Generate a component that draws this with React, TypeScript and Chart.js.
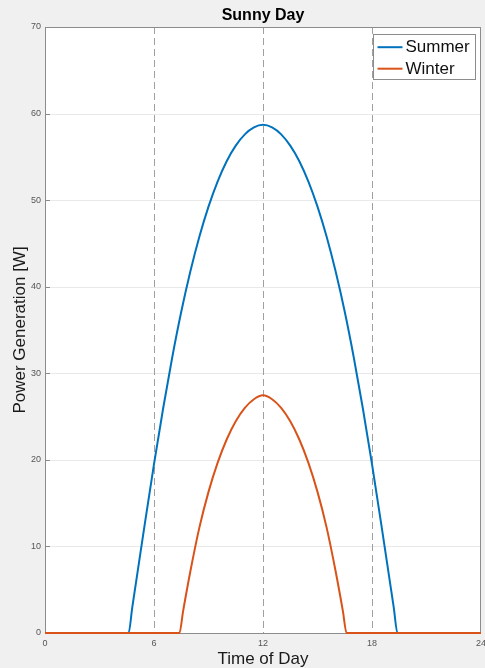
import React, { useEffect, useRef } from "react";
import { Chart, registerables } from "chart.js";

Chart.register(...registerables);

const chartTitle = "Sunny Day";
const xAxisTitle = "Time of Day";
const yAxisTitle = "Power Generation [W]";
const seriesNames = ["Summer", "Winter"];
const seriesColors = ["#0072BD", "#D95319"];

const summerHours = [0, 4.6, 4.8, 5, 5.5, 6, 6.5, 7, 7.5, 8, 8.5, 9, 9.5, 10, 10.5, 11, 11.5, 12, 12.5, 13, 13.5, 14, 14.5, 15, 15.5, 16, 16.5, 17, 17.5, 18, 18.5, 19, 19.2, 19.4, 24];
const summerPower = [0, 0, 2.9, 5.7, 12.7, 19.5, 25.9, 31.8, 37.1, 41.75, 45.8, 49.25, 52.15, 54.5, 56.3, 57.6, 58.4, 58.7, 58.4, 57.6, 56.3, 54.5, 52.15, 49.25, 45.8, 41.75, 37.1, 31.8, 25.9, 19.5, 12.7, 5.7, 2.9, 0, 0];

const winterHours = [0, 7.4, 7.6, 8, 8.5, 9, 9.5, 10, 10.5, 11, 11.5, 12, 12.5, 13, 13.5, 14, 14.5, 15, 15.5, 16, 16.4, 16.6, 24];
const winterPower = [0, 0, 2.5, 7.1, 12.2, 16.3, 19.65, 22.35, 24.45, 26.0, 27.0, 27.45, 27.0, 26.0, 24.45, 22.35, 19.65, 16.3, 12.2, 7.1, 2.5, 0, 0];

const markerHours = [6, 12, 18];
const yGridValues = [10, 20, 30, 40, 50, 60];
const xMin = 0, xMax = 24, xStep = 6;
const yMin = 0, yMax = 70, yStep = 10;

const FONT = "'Liberation Sans', Arial, Helvetica, sans-serif";

export default function App() {
  const ref = useRef<HTMLCanvasElement>(null);

  useEffect(() => {
    const canvas = ref.current;
    if (!canvas) return;

    const framePlugin = {
      id: "matlabFrame",
      beforeDraw(chart: any) {
        const { ctx, chartArea } = chart;
        const { left, right, top, bottom } = chartArea;
        ctx.save();
        ctx.fillStyle = "#ffffff";
        ctx.fillRect(left, top, right - left, bottom - top);
        ctx.restore();
      },
      beforeDatasetsDraw(chart: any) {
        const { ctx, chartArea, scales } = chart;
        const { left, right, top, bottom } = chartArea;
        const x = scales.x;
        const y = scales.y;
        ctx.save();
        ctx.lineWidth = 1;
        ctx.strokeStyle = "#e9e9e9";
        yGridValues.forEach((v) => {
          const py = Math.round(y.getPixelForValue(v)) + 0.5;
          ctx.beginPath();
          ctx.moveTo(left, py);
          ctx.lineTo(right, py);
          ctx.stroke();
        });
        ctx.strokeStyle = "#8a8a8a";
        yGridValues.forEach((v) => {
          const py = Math.round(y.getPixelForValue(v)) + 0.5;
          ctx.beginPath();
          ctx.moveTo(left, py);
          ctx.lineTo(left + 5, py);
          ctx.stroke();
        });
        ctx.setLineDash([7, 4]);
        ctx.strokeStyle = "#a0a0a0";
        markerHours.forEach((h) => {
          const px = Math.round(x.getPixelForValue(h)) + 0.5;
          ctx.beginPath();
          ctx.moveTo(px, top);
          ctx.lineTo(px, bottom);
          ctx.stroke();
        });
        ctx.setLineDash([]);
        ctx.strokeStyle = "#8c8c8c";
        ctx.strokeRect(Math.round(left) + 0.5, Math.round(top) + 0.5, Math.round(right - left) - 1, Math.round(bottom - top));
        ctx.restore();
      },
      afterDatasetsDraw(chart: any) {
        const { ctx, chartArea } = chart;
        const { right, top } = chartArea;
        const boxW = 102;
        const boxH = 45;
        const bx = Math.round(right - 6 - boxW) + 0.5;
        const by = Math.round(top + 7) + 0.5;
        ctx.save();
        ctx.fillStyle = "#ffffff";
        ctx.fillRect(bx, by, boxW, boxH);
        ctx.strokeStyle = "#8c8c8c";
        ctx.lineWidth = 1;
        ctx.strokeRect(bx, by, boxW, boxH);
        const rows = [12.7, 34.2];
        seriesNames.forEach((name, i) => {
          const ry = by + rows[i];
          ctx.strokeStyle = seriesColors[i];
          ctx.lineWidth = 2;
          ctx.beginPath();
          ctx.moveTo(bx + 4, ry);
          ctx.lineTo(bx + 29, ry);
          ctx.stroke();
          ctx.fillStyle = "#111111";
          ctx.font = `17px ${FONT}`;
          ctx.textBaseline = "middle";
          ctx.textAlign = "left";
          ctx.fillText(name, bx + 32, ry + 0.5);
        });
        ctx.restore();
      },
    };

    const chart = new Chart(canvas, {
      type: "line",
      data: {
        datasets: [
          {
            label: seriesNames[0],
            data: summerHours.map((h, i) => ({ x: h, y: summerPower[i] })),
            borderColor: seriesColors[0],
            backgroundColor: seriesColors[0],
            borderWidth: 2,
            pointRadius: 0,
            cubicInterpolationMode: "monotone",
            fill: false,
            order: 1,
            clip: false,
          },
          {
            label: seriesNames[1],
            data: winterHours.map((h, i) => ({ x: h, y: winterPower[i] })),
            borderColor: seriesColors[1],
            backgroundColor: seriesColors[1],
            borderWidth: 2,
            pointRadius: 0,
            cubicInterpolationMode: "monotone",
            fill: false,
            order: 0,
            clip: false,
          },
        ],
      },
      options: {
        animation: false,
        responsive: false,
        events: [],
        layout: { padding: { left: 0, right: 4, top: 0, bottom: 0 } },
        plugins: {
          legend: { display: false },
          tooltip: { enabled: false },
          title: {
            display: true,
            text: chartTitle,
            fullSize: false,
            color: "#000000",
            font: { family: FONT, size: 16, weight: "bold", lineHeight: 1.2 },
            padding: { top: 6.4, bottom: 1.4 },
          },
        },
        scales: {
          x: {
            type: "linear",
            min: xMin,
            max: xMax,
            grid: { display: false, drawTicks: false },
            border: { display: false },
            ticks: {
              stepSize: xStep,
              color: "#555555",
              font: { family: FONT, size: 9 },
              padding: 5,
              maxRotation: 0,
              autoSkip: false,
            },
            title: {
              display: true,
              text: xAxisTitle,
              color: "#1a1a1a",
              font: { family: FONT, size: 17, lineHeight: 1.06 },
              padding: { top: 0, bottom: 0 },
            },
            afterFit: (s: any) => {
              s.height = 35;
              s.paddingLeft = 0;
              s.paddingRight = 0;
            },
          },
          y: {
            type: "linear",
            min: yMin,
            max: yMax,
            grid: { display: false, drawTicks: false },
            border: { display: false },
            ticks: {
              stepSize: yStep,
              color: "#555555",
              font: { family: FONT, size: 9 },
              padding: 4,
            },
            title: {
              display: true,
              text: yAxisTitle,
              color: "#1a1a1a",
              font: { family: FONT, size: 17, lineHeight: 1.0 },
              padding: { top: 12, bottom: 0 },
            },
            afterFit: (s: any) => {
              s.width = 45;
              s.paddingTop = 0;
              s.paddingBottom = 0;
            },
          },
        },
      },
      plugins: [framePlugin],
    } as any);

    return () => chart.destroy();
  }, []);

  return (
    <div
      style={{
        position: "fixed",
        left: 0,
        top: 0,
        width: 485,
        height: 668,
        background: "#f0f0f0",
        overflow: "hidden",
      }}
    >
      <canvas ref={ref} width={485} height={668} style={{ display: "block", width: 485, height: 668 }} />
    </div>
  );
}
